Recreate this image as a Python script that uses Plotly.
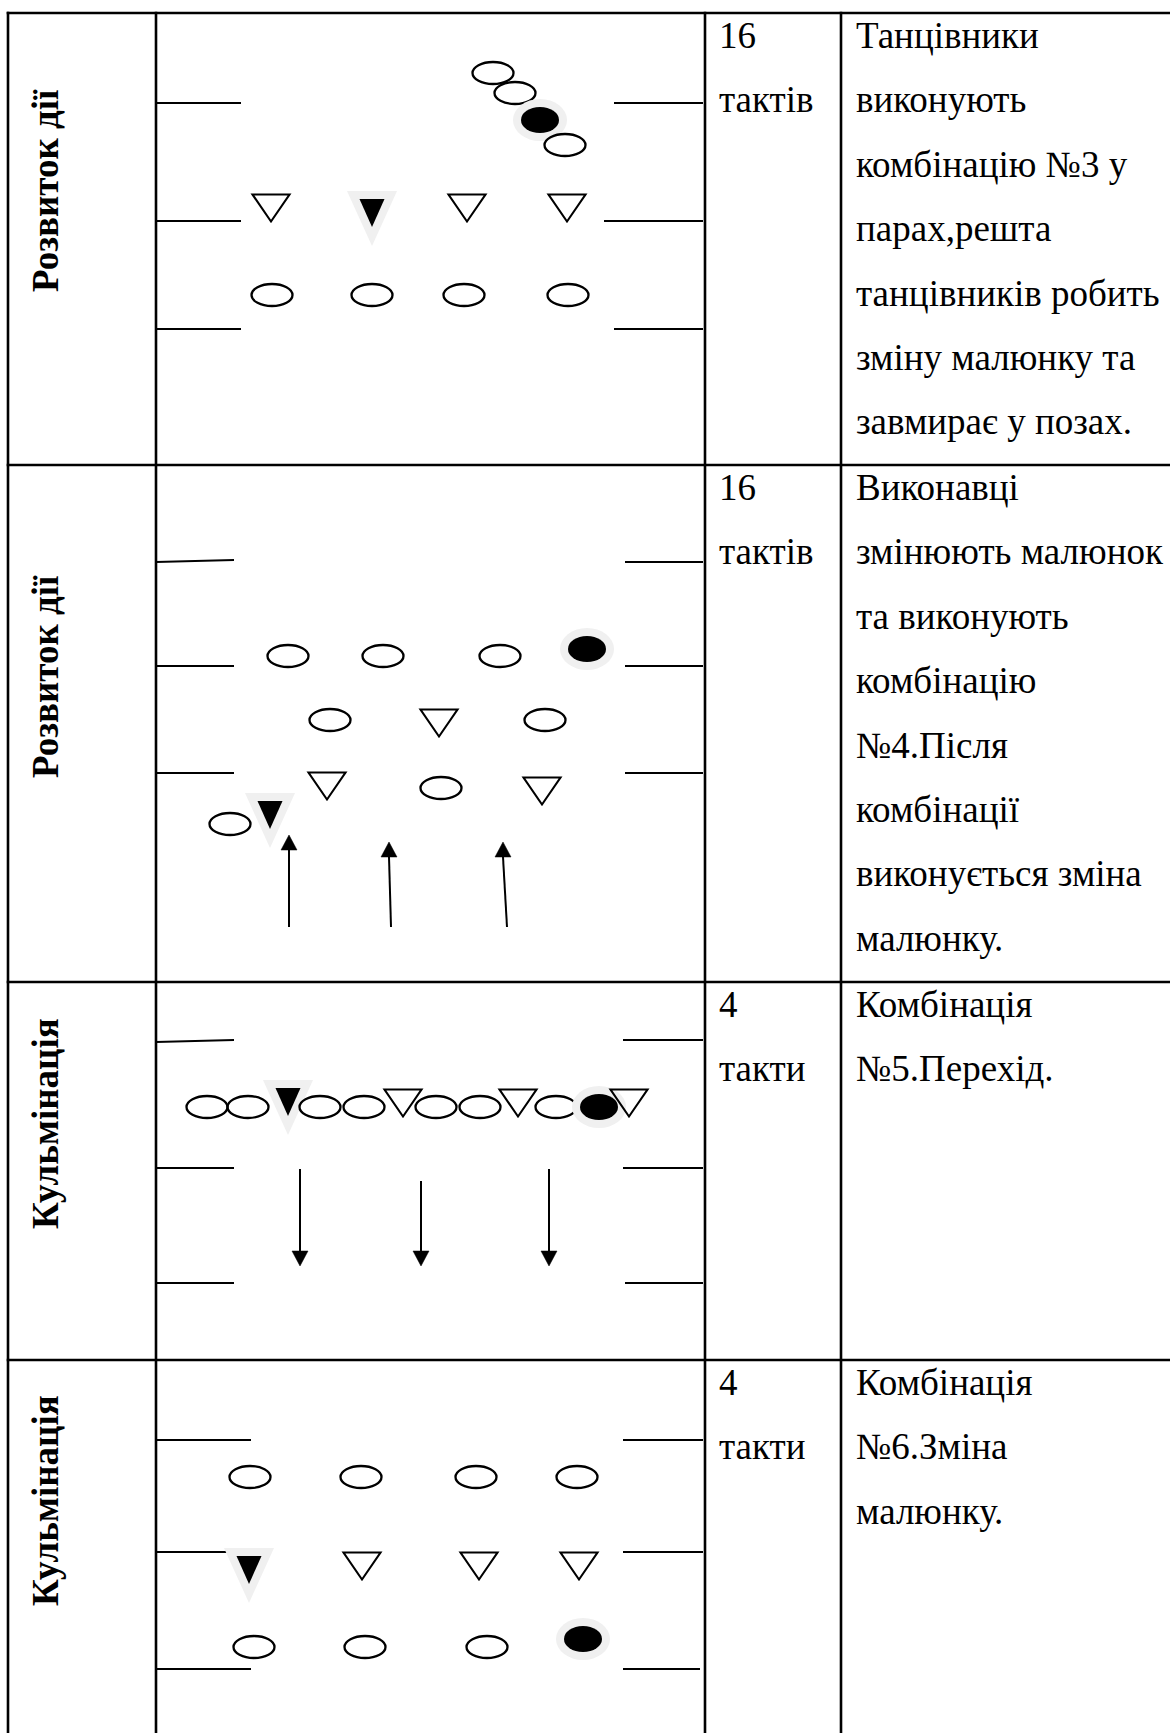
import plotly.graph_objects as go

W, H = 1170, 1733

# ---------------- table structure ----------------
col_x = [8, 156, 705, 841]          # vertical rules
row_y = [13, 465, 982, 1360]        # horizontal rules (row tops)
section_titles = ["Розвиток дії", "Розвиток дії", "Кульмінація", "Кульмінація"]
section_title_y = [191, 677, 1124, 1501]
bar_counts = [["16", "тактів"], ["16", "тактів"], ["4", "такти"], ["4", "такти"]]
descriptions = [
    ["Танцівники", "виконують", "комбінацію №3 у", "парах,решта",
     "танцівників робить", "зміну малюнку та", "завмирає у позах."],
    ["Виконавці", "змінюють малюнок", "та виконують", "комбінацію",
     "№4.Після", "комбінації", "виконується зміна", "малюнку."],
    ["Комбінація", "№5.Перехід."],
    ["Комбінація", "№6.Зміна", "малюнку."],
]

# ---------------- stage side lines (x0, x1, y0, y1) ----------------
stage_lines = [
    [(156, 241, 103, 103), (156, 241, 221, 221), (156, 241, 329, 329),
     (614, 703, 103, 103), (604, 703, 221, 221), (614, 703, 329, 329)],
    [(156, 234, 562, 560), (156, 234, 666, 666), (156, 234, 773, 773),
     (625, 703, 562, 562), (625, 703, 666, 666), (625, 703, 773, 773)],
    [(156, 234, 1042, 1040), (156, 234, 1168, 1168), (156, 234, 1283, 1283),
     (623, 703, 1040, 1040), (623, 703, 1168, 1168), (625, 703, 1283, 1283)],
    [(156, 251, 1440, 1440), (156, 251, 1552, 1552), (156, 251, 1669, 1669),
     (623, 703, 1440, 1440), (623, 703, 1552, 1552), (623, 700, 1669, 1669)],
]

# ---------------- dancers: e=open ellipse, t=open triangle, E=black ellipse, T=black triangle
row1_kind = ["e", "e", "E", "e", "t", "T", "t", "t", "e", "e", "e", "e"]
row1_x = [493, 515, 540, 565, 271, 372, 467, 567, 272, 372, 464, 568]
row1_y = [73, 93, 120, 145, 208, 213, 208, 208, 295, 295, 295, 295]

row2_kind = ["e", "e", "e", "E", "e", "t", "e", "t", "e", "t", "e", "T"]
row2_x = [288, 383, 500, 587, 330, 439, 545, 327, 441, 542, 230, 270]
row2_y = [656, 656, 656, 649, 720, 723, 720, 786, 788, 791, 824, 815]

row3_kind = ["e", "e", "T", "e", "e", "t", "e", "e", "t", "e", "E", "t"]
row3_x = [207, 248, 288, 320, 364, 403, 436, 480, 518, 556, 599, 629]
row3_y = [1107, 1107, 1102, 1107, 1107, 1103, 1107, 1107, 1103, 1107, 1107, 1103]

row4_kind = ["e", "e", "e", "e", "T", "t", "t", "t", "e", "e", "e", "E"]
row4_x = [250, 361, 476, 577, 249, 362, 479, 579, 254, 365, 487, 583]
row4_y = [1477, 1477, 1477, 1477, 1570, 1566, 1566, 1566, 1647, 1647, 1647, 1639]

# ---------------- arrows (tail x, tail y, tip x, tip y)
arrows = [
    (289, 927, 289, 835), (391, 927, 389, 842), (507, 927, 503, 842),
    (300, 1169, 300, 1266), (421, 1181, 421, 1266), (549, 1169, 549, 1266),
]

# ---------------- styles ----------------
TABLE_W = 2.6
STAGE_W = 1.9
OUT_W = 2.3
HALO = "#f0f0f0"
SERIF = "Liberation Serif, Times New Roman, serif"
FS = 37
LINE_STEP = 64.4

shapes = []


def line(x0, y0, x1, y1, w):
    shapes.append(dict(type="line", xref="x", yref="y", x0=x0, y0=y0, x1=x1, y1=y1,
                       line=dict(color="black", width=w)))


def ellipse(cx, cy, w, h, fill, lw, lc="black"):
    shapes.append(dict(type="circle", xref="x", yref="y",
                       x0=cx - w / 2, x1=cx + w / 2, y0=cy - h / 2, y1=cy + h / 2,
                       fillcolor=fill, line=dict(color=lc, width=lw)))


def tri(cx, top, apex, hw, fill, lw, lc="black"):
    p = f"M {cx-hw},{top} L {cx+hw},{top} L {cx},{apex} Z"
    shapes.append(dict(type="path", xref="x", yref="y", path=p,
                       fillcolor=fill, line=dict(color=lc, width=lw)))


# stage lines
for panel in stage_lines:
    for (x0, x1, y0, y1) in panel:
        line(x0, y0, x1, y1, STAGE_W)

# dancers
for kinds, xs, ys in [(row1_kind, row1_x, row1_y), (row2_kind, row2_x, row2_y),
                      (row3_kind, row3_x, row3_y), (row4_kind, row4_x, row4_y)]:
    for k, x, y in zip(kinds, xs, ys):
        if k == "e":
            ellipse(x, y, 41, 22, "rgba(0,0,0,0)", OUT_W)
        elif k == "t":
            tri(x, y - 13.5, y + 13.5, 18.5, "rgba(0,0,0,0)", 2.1)
        elif k == "E":
            ellipse(x, y, 54, 42, HALO, 0, HALO)
            ellipse(x, y, 38, 26, "black", 0, "black")
        elif k == "T":
            tri(x, y - 22, y + 33, 25, HALO, 0, HALO)
            tri(x, y - 14, y + 14, 12.5, "black", 0, "black")

# arrows
for (tx, ty, hx, hy) in arrows:
    d = 1 if hy > ty else -1
    base = hy - d * 15
    line(tx, ty, hx, base, 2)
    shapes.append(dict(type="path", xref="x", yref="y",
                       path=f"M {hx-8},{base} L {hx+8},{base} L {hx},{hy} Z",
                       fillcolor="black", line=dict(color="black", width=0.5)))

# table rules
for x in col_x:
    line(x, row_y[0] - 1.3, x, H + 5, TABLE_W)
for y in row_y:
    line(col_x[0] - 1.3, y, W + 5, y, TABLE_W)

annotations = []
for i, title in enumerate(section_titles):
    annotations.append(dict(x=45, y=section_title_y[i], xref="x", yref="y",
                            text=f"<b>{title}</b>", textangle=-90, showarrow=False,
                            xanchor="center", yanchor="middle",
                            font=dict(family=SERIF, size=FS, color="black")))
    for j, t in enumerate(bar_counts[i]):
        base = row_y[i] + 35 + j * LINE_STEP
        annotations.append(dict(x=718, y=base - 12.5, xref="x", yref="y", text=t,
                                showarrow=False, xanchor="left", yanchor="middle",
                                borderpad=0,
                                font=dict(family=SERIF, size=FS, color="black")))
    for j, t in enumerate(descriptions[i]):
        base = row_y[i] + 35 + j * LINE_STEP
        annotations.append(dict(x=855, y=base - 12.5, xref="x", yref="y", text=t,
                                showarrow=False, xanchor="left", yanchor="middle",
                                borderpad=0,
                                font=dict(family=SERIF, size=FS, color="black")))

fig = go.Figure()
fig.add_trace(go.Scatter(x=[0, W], y=[0, H], mode="markers",
                         marker=dict(opacity=0, size=1), hoverinfo="skip",
                         showlegend=False))
fig.update_layout(
    width=W, height=H, autosize=False,
    margin=dict(l=0, r=0, t=0, b=0, pad=0),
    paper_bgcolor="white", plot_bgcolor="white",
    xaxis=dict(range=[0, W], visible=False, fixedrange=True),
    yaxis=dict(range=[H, 0], visible=False, fixedrange=True),
    shapes=shapes, annotations=annotations, showlegend=False,
)
fig.write_html("out.html", config={"displayModeBar": False},
               post_script="document.body.style.margin='0';document.body.style.overflow='hidden';")
